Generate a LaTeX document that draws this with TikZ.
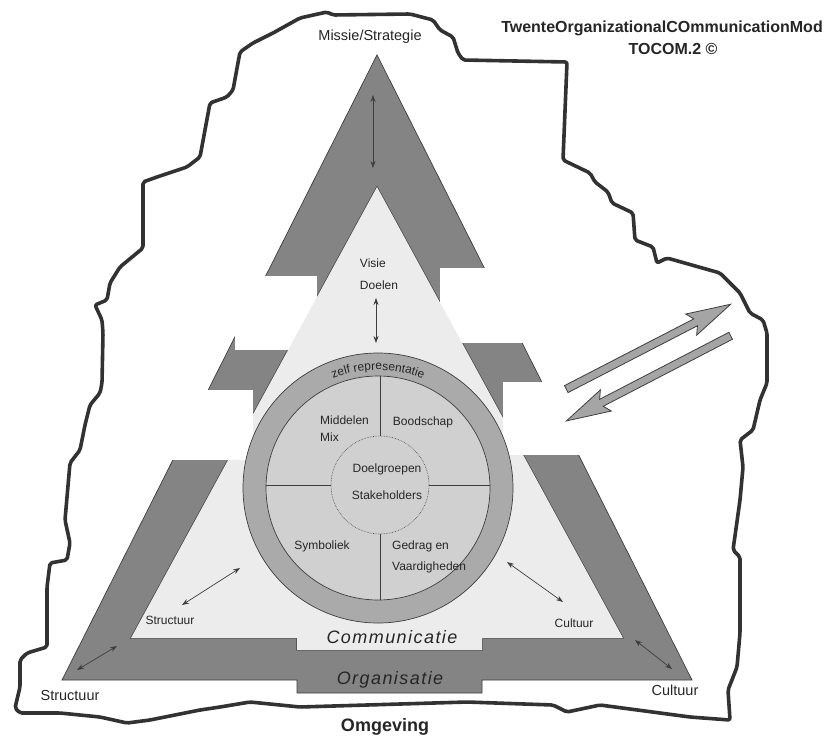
\documentclass[tikz,border=0pt]{standalone}
\usepackage{fontspec}
\setmainfont{Liberation Sans}
\usetikzlibrary{arrows.meta,shapes.arrows,decorations.text}
\definecolor{bandDk}{RGB}{132,132,132}
\definecolor{fillLt}{RGB}{236,236,236}
\definecolor{ringMd}{RGB}{170,170,170}
\definecolor{coreLt}{RGB}{208,208,208}
\definecolor{arrowGy}{RGB}{165,165,165}
\definecolor{edgeDk}{RGB}{62,62,62}
\definecolor{rimDk}{RGB}{50,50,50}
\tikzset{
  rim/.style   ={draw=rimDk, line width=3.6pt, line join=round, rounded corners=2pt},
  band/.style  ={fill=bandDk, draw=edgeDk, line width=0.7pt},
  fieldedge/.style={draw=edgeDk, line width=1.3pt},
  field/.style ={fill=fillLt, draw=none},
  cutout/.style={fill=white, draw=none},
  link/.style  ={{Stealth[length=7pt,width=5pt]}-{Stealth[length=7pt,width=5pt]},
                 line width=0.7pt, draw=edgeDk},
  flow/.style  ={single arrow, draw=edgeDk, fill=arrowGy, line width=0.8pt,
                 inner sep=3.5pt, minimum height=185pt, single arrow head extend=8pt,
                 single arrow tip angle=30, single arrow head indent=5pt},
  lbl/.style   ={font=\fontsize{12}{14}\selectfont, inner sep=0pt, text=black!85},
  lblL/.style  ={font=\fontsize{14.5}{16}\selectfont, inner sep=0pt, text=black!85},
  hdr/.style   ={font=\fontsize{16}{18}\selectfont\bfseries, inner sep=0pt, text=black!85},
  slab/.style  ={font=\fontsize{18}{20}\selectfont\itshape\addfontfeature{LetterSpace=8},
                 inner sep=0pt, text=black!85},
}
\begin{document}
\begin{tikzpicture}[x=1pt, y=-1pt]
\useasboundingbox[fill=white] (0,0) rectangle (826,736);
\draw[rim] (300,18) -- (327,12) -- (333,15) -- (410,14) -- (433,20) -- (440,30) -- (453,37)
  -- (458,53) -- (463,60) -- (567,62) -- (563,160) -- (590,173) -- (595,182) -- (608,192)
  -- (612,203) -- (633,213) -- (635,240) -- (653,247) -- (657,263) -- (667,258) -- (720,273)
  -- (740,293) -- (750,313) -- (763,320) -- (767,333) -- (767,383) -- (760,400) -- (753,430)
  -- (740,440) -- (743,467) -- (740,500) -- (733,550) -- (740,557) -- (740,633) -- (737,667)
  -- (728,690) -- (730,720) -- (690,717) -- (600,705) -- (567,712) -- (553,705) -- (467,702)
  -- (300,707) -- (250,702) -- (220,707) -- (200,710) -- (150,720) -- (127,723) -- (100,717)
  -- (60,713) -- (20,713) -- (15,708) -- (20,687) -- (20,660) -- (27,653) -- (47,647)
  -- (47,587) -- (50,563) -- (67,560) -- (70,543) -- (65,520) -- (70,463) -- (80,450)
  -- (85,425) -- (90,405) -- (100,393) -- (102,383) -- (103,333) -- (102,320) -- (95,305)
  -- (107,300) -- (110,283) -- (120,267) -- (143,248) -- (143,182) -- (157,177) -- (187,167)
  -- (200,157) -- (210,103) -- (227,97) -- (233,90) -- (240,52) -- (253,43) -- (273,33) -- cycle;

\draw[band] (377,55) -- (62,680) -- (297,680) -- (297,693) -- (482,693) -- (482,680)
  -- (692,680) -- cycle;
\draw[fieldedge] (377,187) -- (131,638) -- (297,638) -- (297,650) -- (482,650) -- (482,638)
  -- (623,638) -- cycle;
\fill[cutout] (235,276) rectangle (317,350);
\fill[cutout] (440,268) rectangle (600,343);
\fill[field] (377,187) -- (131,638) -- (297,638) -- (297,650) -- (482,650) -- (482,638)
  -- (623,638) -- cycle;
\fill[cutout] (150,390) rectangle (253,460);
\fill[cutout] (503,382) rectangle (600,455);

\node[circle, fill=ringMd, draw=edgeDk, line width=0.7pt, minimum size=270pt, inner sep=0pt]
  (ring) at (378,488) {};
\node[circle, fill=coreLt, draw=edgeDk, line width=0.7pt, minimum size=224pt, inner sep=0pt]
  (core) at (378,488) {};
\node[circle, draw=edgeDk, densely dotted, line width=0.6pt, minimum size=98pt, inner sep=0pt]
  (tgt) at (380,485) {};
\foreach \a/\b in {tgt.north |- core.north/tgt.north, tgt.south/tgt.south |- core.south,
                   tgt.west -| core.west/tgt.west, tgt.east/tgt.east -| core.east}
  \draw[edgeDk, line width=0.7pt] (\a) -- (\b);

\path[decorate, decoration={text along path, text align=center,
  text={|\fontsize{12}{14}\selectfont\color{black!85}|zelf representatie}}]
  (ring.center) ++(-125:118) arc[start angle=-125, end angle=-55, radius=118];

\node[lblL] (missie) at (370,37) {Missie/Strategie};
\node[hdr] (tocomA) at (662,28) {TwenteOrganizationalCOmmunicationMod};
\node[hdr] (tocomB) at (673,49) {TOCOM.2 ©};
\node[lbl, align=left, font=\fontsize{12}{22}\selectfont] (visie) at (379,274) {Visie\\Doelen};
\node[lbl, align=left, anchor=west, font=\fontsize{12}{17}\selectfont] (middelen) at (320,429) {Middelen\\Mix};
\node[lbl] (boodschap) at (423,422) {Boodschap};
\node[lbl, align=center, font=\fontsize{12}{27}\selectfont] (doelgroep) at (387,482) {Doelgroepen\\Stakeholders};
\node[lbl] (symboliek) at (322,546) {Symboliek};
\node[lbl, align=left, anchor=west, font=\fontsize{12}{21}\selectfont] (gedrag) at (392,557) {Gedrag en\\Vaardigheden};
\node[lbl] (strucIn) at (170,620) {Structuur};
\node[lblL] (strucUit) at (70,695) {Structuur};
\node[lbl] (cultIn) at (574,623) {Cultuur};
\node[lblL] (cultUit) at (675,690) {Cultuur};
\node[slab] (comm) at (392,637) {Communicatie};
\node[slab] (org) at (390,680) {Organisatie};
\node[hdr, font=\fontsize{18}{20}\selectfont\bfseries] (omgeving) at (385,727) {Omgeving};

\coordinate (mTop) at (373,95);   \coordinate (mBot) at (373,168);
\coordinate (vTop) at (376,298);  \coordinate (vBot) at (376,343);
\coordinate (sIn) at (240,568);   \coordinate (sInE) at (182,605);
\coordinate (sUit) at (117,646);  \coordinate (sUitE) at (77,670);
\coordinate (cIn) at (507,562);   \coordinate (cInE) at (563,602);
\coordinate (cUit) at (635,640);  \coordinate (cUitE) at (672,669);
\foreach \a/\b in {mTop/mBot, vTop/vBot, sIn/sInE, sUit/sUitE, cIn/cInE, cUit/cUitE}
  \draw[link] (\a) -- (\b);

\node[flow, rotate=27.3] (naarBuiten) at (642,350) {};
\node[flow, rotate=207.4] (naarBinnen) at (655,375) {};
\end{tikzpicture}
\end{document}
